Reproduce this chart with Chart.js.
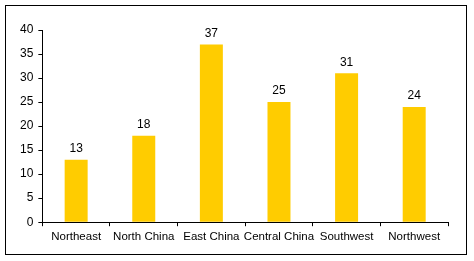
<!DOCTYPE html>
<html>
<head>
<meta charset="utf-8">
<script src="https://cdn.jsdelivr.net/npm/chart.js@4/dist/chart.umd.min.js"></script>
<style>
  body { margin: 0; background: #fff; }
  canvas { display: block; }
</style>
</head>
<body>
<canvas id="region-chart" width="474" height="261"></canvas>
<script>
const regions = ['Northeast', 'North China', 'East China', 'Central China', 'Southwest', 'Northwest'];
const counts = [13, 18, 37, 25, 31, 24];
const yTicks = [0, 5, 10, 15, 20, 25, 30, 35, 40];

// frame round the whole picture
const frame = {
    id: 'frame',
    afterDraw(chart) {
        const c = chart.ctx;
        c.save();
        c.strokeStyle = '#000';
        c.lineWidth = 1;
        c.strokeRect(5.5, 5.5, 461, 249);
        c.restore();
    }
};

// value above each bar
const valueLabels = {
    id: 'valueLabels',
    afterDatasetsDraw(chart) {
        const c = chart.ctx;
        c.save();
        c.font = '12px "Liberation Sans", Arial, sans-serif';
        c.fillStyle = '#000';
        c.textAlign = 'center';
        c.textBaseline = 'bottom';
        chart.getDatasetMeta(0).data.forEach((bar, i) => {
            c.fillText(counts[i], bar.x, bar.y - 5);
        });
        c.restore();
    }
};

const ctx = document.getElementById('region-chart').getContext('2d');
new Chart(ctx, {
    type: 'bar',
    data: {
        labels: regions,
        datasets: [{
            data: counts,
            backgroundColor: '#FFCC00',
            barPercentage: 0.34,
            categoryPercentage: 1
        }]
    },
    options: {
        responsive: false,
        animation: false,
        layout: {
            padding: { top: 30, left: 15, right: 26, bottom: 13 }
        },
        plugins: {
            legend: { display: false },
            tooltip: { enabled: false }
        },
        scales: {
            x: {
                grid: {
                    display: true,
                    offset: true,
                    drawOnChartArea: false,
                    drawTicks: true,
                    tickLength: 4,
                    color: '#000'
                },
                border: { color: '#000', width: 1 },
                ticks: {
                    color: '#000',
                    padding: 4,
                    maxRotation: 0,
                    autoSkip: false,
                    font: { family: '"Liberation Sans", Arial, sans-serif', size: 11.5 }
                }
            },
            y: {
                min: 0,
                max: 40,
                afterBuildTicks(axis) {
                    axis.ticks = yTicks.map(v => ({ value: v }));
                },
                grid: {
                    display: true,
                    drawOnChartArea: false,
                    drawTicks: true,
                    tickLength: 4,
                    color: '#000'
                },
                border: { color: '#000', width: 1 },
                ticks: {
                    color: '#000',
                    padding: 5,
                    font: { family: '"Liberation Sans", Arial, sans-serif', size: 12 }
                }
            }
        }
    },
    plugins: [frame, valueLabels]
});
</script>
</body>
</html>
